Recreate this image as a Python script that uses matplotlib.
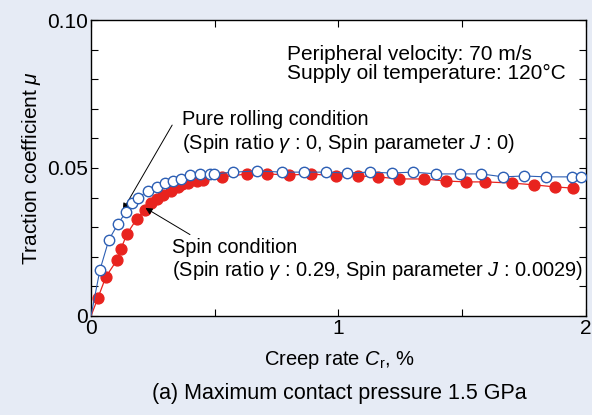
import matplotlib
matplotlib.use("Agg")
import matplotlib.pyplot as plt
from matplotlib.ticker import MultipleLocator, FixedLocator

plt.rcParams["font.family"] = ["Liberation Sans", "DejaVu Sans"]
plt.rcParams["mathtext.fontset"] = "custom"
plt.rcParams["mathtext.rm"] = "Liberation Sans"
plt.rcParams["mathtext.it"] = "Liberation Sans:italic"

# creep rate (%) and traction coefficient, pure rolling
roll_cr = [0, 0.036, 0.072, 0.109, 0.141, 0.165, 0.189, 0.229, 0.266, 0.298, 0.330,
           0.362, 0.402, 0.439, 0.479, 0.499, 0.575, 0.672, 0.773, 0.861, 0.950,
           1.034, 1.127, 1.215, 1.300, 1.396, 1.493, 1.577, 1.666, 1.750, 1.839,
           1.944, 1.980]
roll_mu = [0, 0.0155, 0.0257, 0.0311, 0.0351, 0.0382, 0.0399, 0.0422, 0.0436, 0.0449,
           0.0456, 0.0463, 0.0476, 0.0480, 0.0480, 0.0480, 0.0486, 0.0490, 0.0486,
           0.0486, 0.0486, 0.0483, 0.0486, 0.0483, 0.0486, 0.0480, 0.0480, 0.0480,
           0.0470, 0.0473, 0.0470, 0.0470, 0.0470]

# spin condition
spin_cr = [0, 0.028, 0.060, 0.105, 0.121, 0.145, 0.185, 0.217, 0.241, 0.266, 0.290,
           0.322, 0.350, 0.366, 0.390, 0.427, 0.451, 0.531, 0.632, 0.712, 0.801,
           0.889, 0.990, 1.078, 1.159, 1.243, 1.344, 1.433, 1.517, 1.594, 1.702,
           1.791, 1.875, 1.948]
spin_mu = [0, 0.0061, 0.0132, 0.0189, 0.0226, 0.0277, 0.0328, 0.0358, 0.0382, 0.0395,
           0.0409, 0.0422, 0.0436, 0.0446, 0.0449, 0.0456, 0.0459, 0.0470, 0.0480,
           0.0480, 0.0476, 0.0480, 0.0473, 0.0473, 0.0470, 0.0463, 0.0463, 0.0456,
           0.0453, 0.0453, 0.0449, 0.0443, 0.0436, 0.0432]

blue = "#2d5fb4"
red = "#e8231e"

fig = plt.figure(figsize=(5.92, 4.15), dpi=100)
fig.patch.set_facecolor("#e6ebf5")
ax = fig.add_axes([0.1537, 0.2386, 0.8361, 0.7132])
ax.set_facecolor("white")

ax.plot(spin_cr, spin_mu, "-o", color=red, lw=0.9, ms=7.8, mfc=red, mec=red,
        markevery=list(range(1, len(spin_cr))), zorder=3)
ax.plot(roll_cr, roll_mu, "-o", color=blue, lw=0.8, ms=7.5, mfc="white", mec=blue,
        mew=1.0, markevery=list(range(1, len(roll_cr))), zorder=4)

ax.set_xlim(0, 2)
ax.set_ylim(0, 0.10)
ax.xaxis.set_major_locator(FixedLocator([0, 1, 2]))
ax.xaxis.set_minor_locator(MultipleLocator(0.5))
ax.yaxis.set_major_locator(FixedLocator([0, 0.05, 0.10]))
ax.yaxis.set_minor_locator(MultipleLocator(0.01))
ax.set_xticklabels(["0", "1", "2"])
ax.set_yticklabels(["0", "0.05", "0.10"])
ax.tick_params(which="both", direction="in", top=True, right=True, length=5,
               width=0.8, labelsize=15, pad=2)
for s in ax.spines.values():
    s.set_linewidth(1.0)

ax.set_ylabel(r"Traction coefficient $\mu$", fontsize=15, labelpad=3)
fig.text(0.573, 0.133, r"Creep rate $C_\mathrm{r}$, %", fontsize=14.5,
         ha="center", va="center")
fig.text(0.573, 0.053, "(a) Maximum contact pressure 1.5 GPa", fontsize=15.5,
         ha="center", va="center")

ax.text(0.79, 0.0915, "Peripheral velocity: 70 m/s\nSupply oil temperature: 120°C",
        fontsize=15, va="top", ha="left", linespacing=1.0)

ax.text(0.368, 0.0695, "Pure rolling condition\n"
        r"(Spin ratio $\gamma$ : 0, Spin parameter $J$ : 0)",
        fontsize=14.4, va="top", ha="left", linespacing=1.15)
ax.annotate("", xy=(0.129, 0.0358), xytext=(0.328, 0.0645),
            arrowprops=dict(arrowstyle="-|>", color="black", lw=0.7,
                            mutation_scale=10, shrinkA=0, shrinkB=0))

ax.text(0.328, 0.0265, "Spin condition\n"
        r"(Spin ratio $\gamma$ : 0.29, Spin parameter $J$ : 0.0029)",
        fontsize=14.4, va="top", ha="left", linespacing=1.15)
ax.annotate("", xy=(0.22, 0.0365), xytext=(0.40, 0.0275),
            arrowprops=dict(arrowstyle="-|>", color="black", lw=0.7,
                            mutation_scale=10, shrinkA=0, shrinkB=0))

fig.savefig("out.png", dpi=100, facecolor=fig.get_facecolor())
